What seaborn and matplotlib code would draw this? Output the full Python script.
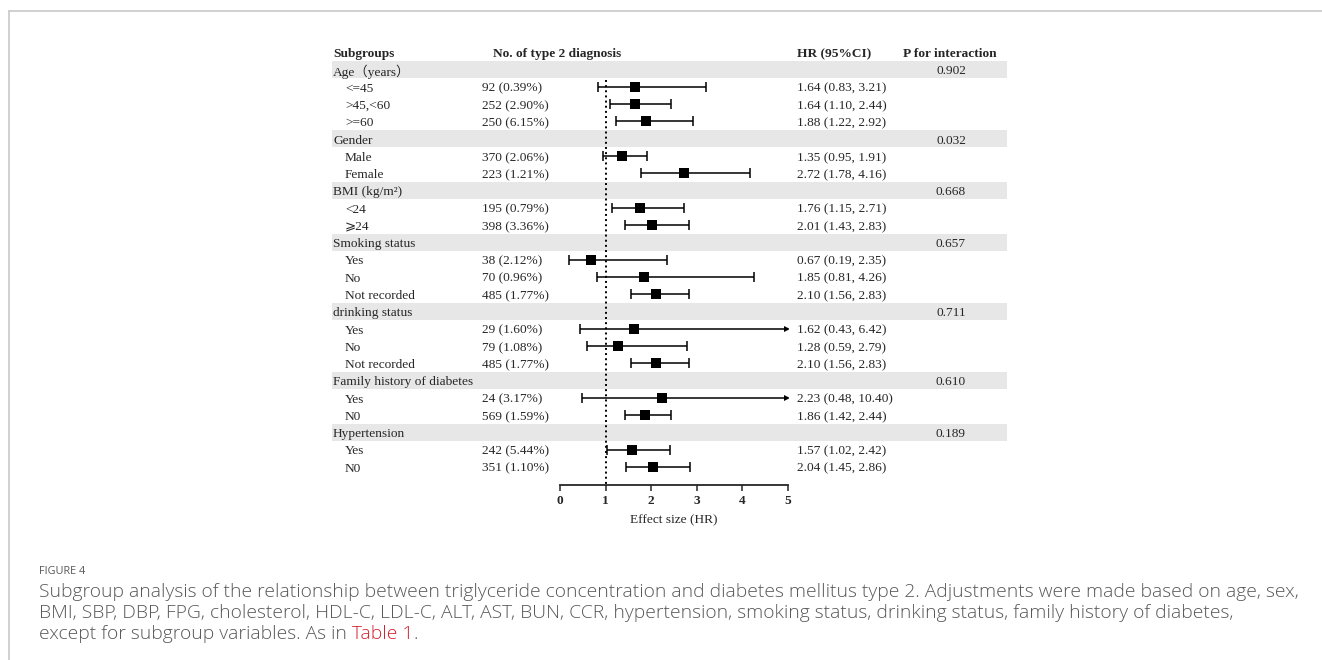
"""
Subgroup forest plot: HR of type 2 diabetes by subgroup.
"""

import numpy as np
import pandas as pd
import seaborn as sns
import matplotlib.pyplot as plt
from matplotlib.lines import Line2D

groups = ["Age（years）", "Gender", "BMI (kg/m²)", "Smoking status",
          "drinking status", "Family history of diabetes", "Hypertension"]
p_interaction = ["0.902", "0.032", "0.668", "0.657", "0.711", "0.610", "0.189"]
levels = [["<=45", ">45,<60", ">=60"],
          ["Male", "Female"],
          ["<24", "⩾24"],
          ["Yes", "No", "Not recorded"],
          ["Yes", "No", "Not recorded"],
          ["Yes", "N0"],
          ["Yes", "N0"]]
cases = ["92 (0.39%)", "252 (2.90%)", "250 (6.15%)",
         "370 (2.06%)", "223 (1.21%)",
         "195 (0.79%)", "398 (3.36%)",
         "38 (2.12%)", "70 (0.96%)", "485 (1.77%)",
         "29 (1.60%)", "79 (1.08%)", "485 (1.77%)",
         "24 (3.17%)", "569 (1.59%)",
         "242 (5.44%)", "351 (1.10%)"]
hr = [1.64, 1.64, 1.88, 1.35, 2.72, 1.76, 2.01, 0.67, 1.85, 2.10,
      1.62, 1.28, 2.10, 2.23, 1.86, 1.57, 2.04]
ci_low = [0.83, 1.10, 1.22, 0.95, 1.78, 1.15, 1.43, 0.19, 0.81, 1.56,
          0.43, 0.59, 1.56, 0.48, 1.42, 1.02, 1.45]
ci_high = [3.21, 2.44, 2.92, 1.91, 4.16, 2.71, 2.83, 2.35, 4.26, 2.83,
           6.42, 2.79, 2.83, 10.40, 2.44, 2.42, 2.86]
x_ticks = [0, 1, 2, 3, 4, 5]

sns.set_style("white")
plt.rcParams["font.family"] = ["Liberation Serif", "DejaVu Serif", "DejaVu Sans", "Noto Sans CJK SC"]

# one row per line of the table
recs = []
k = 0
for g, p, levs in zip(groups, p_interaction, levels):
    recs.append(dict(label=g, header=True, p=p))
    for lev in levs:
        recs.append(dict(label=lev, header=False, cases=cases[k],
                         hr=hr[k], lo=ci_low[k], hi=ci_high[k]))
        k += 1
df = pd.DataFrame(recs)
df["row"] = np.arange(len(df)) + 1
sub = df[~df["header"]].copy()
sub["hi_clip"] = sub["hi"].clip(upper=5)

W, H = 1322, 660
fig = plt.figure(figsize=(W / 100, H / 100), dpi=100)

top_px, bot_px = 43.6, 485
ylim = (25.05, -0.5)
fs = 9.6
dy = 0.11  # nudge text down a little so it sits on the row like the original

# table part (x in pixel units)
tab = fig.add_axes([332 / W, 1 - bot_px / H, 675 / W, (bot_px - top_px) / H])
tab.set_xlim(332, 1007)
tab.set_ylim(*ylim)
tab.axis("off")

for _, r in df[df["header"]].iterrows():
    tab.axhspan(r["row"] - 0.5, r["row"] + 0.5, color="#e7e7e7", lw=0)
    tab.text(333, r["row"] + dy, r["label"], va="center", fontsize=fs)
    tab.text(951, r["row"] + dy, r["p"], va="center", ha="center", fontsize=fs)

for _, r in sub.iterrows():
    tab.text(345, r["row"] + dy, r["label"], va="center", fontsize=fs)
    tab.text(482, r["row"] + dy, r["cases"], va="center", fontsize=fs)
    tab.text(797, r["row"] + dy, "%.2f (%.2f, %.2f)" % (r["hr"], r["lo"], r["hi"]),
             va="center", fontsize=fs)

for x, t, ha in [(333, "Subgroups", "left"), (493, "No. of type 2 diagnosis", "left"),
                 (797, "HR (95%CI)", "left"), (950, "P for interaction", "center")]:
    tab.text(x, dy, t, va="center", ha=ha, fontsize=fs, fontweight="bold")

# forest part
ax = fig.add_axes([560 / W, 1 - bot_px / H, 228 / W, (bot_px - top_px) / H])
ax.patch.set_visible(False)
ax.set_xlim(0, 5)
ax.set_ylim(*ylim)

ax.vlines(1, 1.6, ylim[0], colors="black", linestyles=":", lw=1.4)
ax.hlines(sub["row"], sub["lo"], sub["hi_clip"], colors="black", lw=1.1)
ax.plot(sub["lo"], sub["row"], "|", color="black", ms=6.5, mew=1.1)
inside = sub[sub["hi"] <= 5]
ax.plot(inside["hi"], inside["row"], "|", color="black", ms=6.5, mew=1.1)
outside = sub[sub["hi"] > 5]
ax.plot(outside["hi_clip"] - 0.03, outside["row"], ">", color="black", ms=4.5, mew=0)
sns.scatterplot(data=sub, x="hr", y="row", marker="s", color="black", s=60,
                edgecolor="black", linewidth=0, zorder=5, ax=ax)

sns.despine(ax=ax, left=True)
ax.spines["bottom"].set_linewidth(1.3)
ax.set_yticks([])
ax.set_xticks(x_ticks)
ax.tick_params(axis="x", bottom=True, length=4, width=1.1, labelsize=fs, pad=3.5)
for lab in ax.get_xticklabels():
    lab.set_fontweight("bold")
ax.set_xlabel("Effect size (HR)", fontsize=fs, labelpad=5)
ax.set_ylabel("")

# page frame
fig.add_artist(Line2D([9 / W, 1], [1 - 11 / H, 1 - 11 / H], color="#c8c8c8", lw=1.2))
fig.add_artist(Line2D([9 / W, 9 / W], [0, 1 - 11 / H], color="#c8c8c8", lw=1.2))

# caption
cfs = 13.85
cap = dict(family=["Open Sans", "DejaVu Sans"], fontweight="light", color="#585858")
fig.text(39 / W, 1 - 571 / H, "FIGURE 4", fontsize=7.8, va="center",
         family=["Open Sans", "DejaVu Sans"], color="#585858")
lines = ["Subgroup analysis of the relationship between triglyceride concentration and diabetes mellitus type 2. Adjustments were made based on age, sex,",
         "BMI, SBP, DBP, FPG, cholesterol, HDL-C, LDL-C, ALT, AST, BUN, CCR, hypertension, smoking status, drinking status, family history of diabetes,"]
for i, ln in enumerate(lines):
    fig.text(39 / W, 1 - (592 + 21 * i) / H, ln, fontsize=cfs, va="center", **cap)
last = fig.text(39 / W, 1 - 634 / H, "except for subgroup variables. As in ", fontsize=cfs, va="center", **cap)
fig.canvas.draw()
bb = last.get_window_extent().transformed(fig.transFigure.inverted())
red = fig.text(bb.x1, 1 - 634 / H, "Table 1", fontsize=cfs, va="center",
               family=["Open Sans", "DejaVu Sans"], fontweight="light", color="#d3202f")
fig.canvas.draw()
bb2 = red.get_window_extent().transformed(fig.transFigure.inverted())
fig.text(bb2.x1, 1 - 634 / H, ".", fontsize=cfs, va="center", **cap)

fig.savefig("out.png", dpi=100)
